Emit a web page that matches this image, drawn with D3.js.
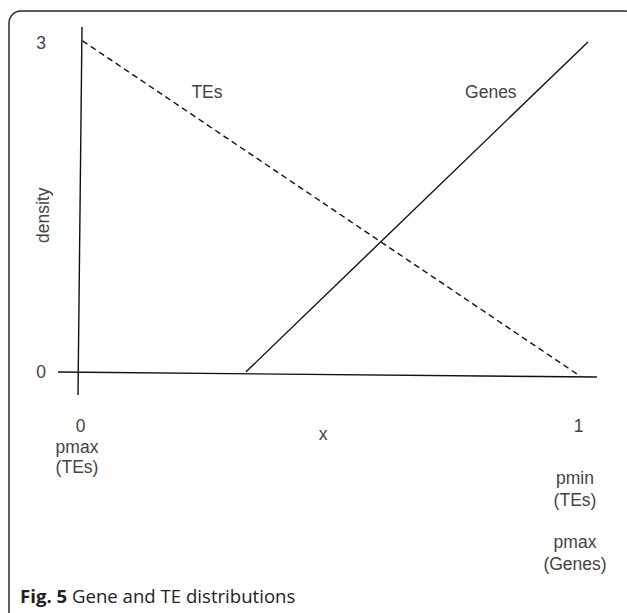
<!DOCTYPE html>
<html>
<head>
<meta charset="utf-8">
<script src="https://cdn.jsdelivr.net/npm/d3@7"></script>
<style>
  html, body { margin: 0; padding: 0; background: #fff; }
  svg { display: block; }
  .lbl { font-family: "Liberation Sans", Arial, sans-serif; font-size: 17.5px; fill: #444; }
  .cap { font-family: "Open Sans", sans-serif; font-size: 18.6px; fill: #222; }
</style>
</head>
<body>
<svg id="chart" width="627" height="613"></svg>
<script>
// ---- data ----
const xTicks = [0, 1];
const yTicks = [0, 3];
// series (x, density)
const tesX = [0.005, 1.005];
const tesY = [3.02, -0.04];
const genesX = [0.333, 1.02];
const genesY = [0, 3.01];
// hand-drawn axis lines (x, density)
const xAxisX = [-0.044, 1.038];
const xAxisY = [0, -0.046];
const yAxisX = [0.004, -0.004];
const yAxisY = [3.146, -0.21];
const leftLabels = ["pmax", "(TEs)"];
const rightLabels = ["pmin", "(TEs)", "", "pmax", "(Genes)"];
const seriesNames = ["TEs", "Genes"];
const nameX = [0.255, 0.825];
const nameY = [2.55, 2.55];

const svg = d3.select("#chart");

// frame
svg.append("rect")
  .attr("x", 9).attr("y", 11).attr("width", 628).attr("height", 640)
  .attr("rx", 12).attr("ry", 12)
  .attr("fill", "none").attr("stroke", "#2a2a2a").attr("stroke-width", 1.5);

const x = d3.scaleLinear().domain([0, 1]).range([80, 578]);
const y = d3.scaleLinear().domain([0, 3]).range([372, 43]);

const line = d3.line().x(d => x(d[0])).y(d => y(d[1]));
const pts = (xs, ys) => xs.map((v, i) => [v, ys[i]]);

// axis lines
svg.append("path").attr("d", line(pts(xAxisX, xAxisY)))
  .attr("fill", "none").attr("stroke", "#111").attr("stroke-width", 1.4);
svg.append("path").attr("d", line(pts(yAxisX, yAxisY)))
  .attr("fill", "none").attr("stroke", "#111").attr("stroke-width", 1.4);

// series
svg.append("path").attr("d", line(pts(tesX, tesY)))
  .attr("fill", "none").attr("stroke", "#111").attr("stroke-width", 1.4)
  .attr("stroke-dasharray", "6,4");
svg.append("path").attr("d", line(pts(genesX, genesY)))
  .attr("fill", "none").attr("stroke", "#111").attr("stroke-width", 1.4);

// tick labels via d3 axes
const yAx = svg.append("g").attr("transform", `translate(${x(0)},0)`)
  .call(d3.axisLeft(y).tickValues(yTicks).tickSize(0).tickPadding(34).tickFormat(d3.format("d")));
const xAx = svg.append("g").attr("transform", `translate(0,${y(0)})`)
  .call(d3.axisBottom(x).tickValues(xTicks).tickSize(0).tickPadding(48).tickFormat(d3.format("d")));
[yAx, xAx].forEach(g => {
  g.attr("font-size", null).attr("font-family", null);
  g.select(".domain").remove();
  g.selectAll("text").attr("class", "lbl").attr("fill", null);
});

// extra x labels
leftLabels.forEach((t, i) => {
  svg.append("text").attr("class", "lbl").attr("text-anchor", "middle")
    .attr("x", x(0) - 3).attr("y", 453 + i * 20).text(t);
});
rightLabels.forEach((t, i) => {
  if (!t) return;
  svg.append("text").attr("class", "lbl").attr("text-anchor", "middle")
    .attr("x", x(1) - 3).attr("y", 484 + i * 22 + (i >= 3 ? -2 : 0)).text(t);
});

// axis titles
svg.append("text").attr("class", "lbl").attr("text-anchor", "middle")
  .attr("x", x(0.488)).attr("y", 440).text("x");
svg.append("text").attr("class", "lbl").attr("text-anchor", "middle")
  .attr("transform", `translate(49,${y(1.43)}) rotate(-90)`).text("density");

// series names
seriesNames.forEach((t, i) => {
  svg.append("text").attr("class", "lbl").attr("text-anchor", "middle")
    .attr("x", x(nameX[i])).attr("y", y(nameY[i]) + 6).text(t);
});

// caption
const cap = svg.append("text").attr("class", "cap").attr("x", 20).attr("y", 603);
cap.append("tspan").attr("font-weight", "bold").text("Fig. 5");
cap.append("tspan").text(" Gene and TE distributions");
</script>
</body>
</html>
